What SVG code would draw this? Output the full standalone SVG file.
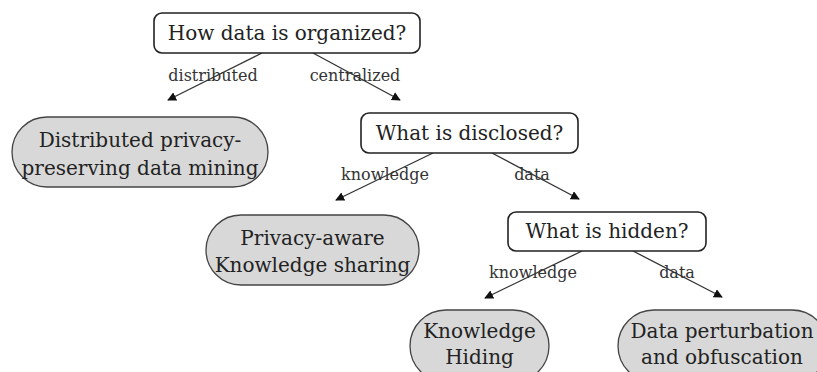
<svg xmlns="http://www.w3.org/2000/svg" width="817" height="372" viewBox="0 0 817 372">
  <style>
    .q rect { fill: #ffffff; stroke: #222222; stroke-width: 1.6; }
    .leaf rect { fill: #d8d8d8; stroke: #444444; stroke-width: 1.3; }
    .t { font-family: "DejaVu Serif", "Liberation Serif", serif; font-size: 20px; fill: #222222; text-anchor: middle; }
    .lbl { font-family: "DejaVu Serif", "Liberation Serif", serif; font-size: 16px; fill: #333333; text-anchor: middle; }
    .edge { stroke: #333333; stroke-width: 1.3; fill: none; marker-end: url(#tri); }
  </style>
  <defs>
    <marker id="tri" viewBox="0 0 10 10" refX="9" refY="5" markerWidth="9" markerHeight="9" markerUnits="userSpaceOnUse" orient="auto">
      <path d="M0,0 L10,5 L0,10 Z" fill="#111111"/>
    </marker>
  </defs>
  <rect width="817" height="372" fill="#ffffff"/>

  <!-- connectors with their edge labels -->
  <g id="connectors">
    <line class="edge" x1="262" y1="53" x2="168" y2="100"/>
    <line class="edge" x1="313" y1="53" x2="400" y2="100"/>
    <line class="edge" x1="433" y1="153" x2="336" y2="200"/>
    <line class="edge" x1="492" y1="153" x2="579" y2="199"/>
    <line class="edge" x1="582" y1="251" x2="485" y2="298"/>
    <line class="edge" x1="633" y1="251" x2="722" y2="297"/>
    <text class="lbl" x="213" y="81">distributed</text>
    <text class="lbl" x="355" y="81">centralized</text>
    <text class="lbl" x="385" y="180">knowledge</text>
    <text class="lbl" x="532" y="180">data</text>
    <text class="lbl" x="533" y="278">knowledge</text>
    <text class="lbl" x="677" y="278">data</text>
  </g>

  <g id="how-organized" class="q">
    <rect x="154" y="13" width="266" height="40" rx="8"/>
    <text class="t" x="287" y="40">How data is organized?</text>
  </g>

  <g id="distributed-ppdm" class="leaf">
    <rect x="12" y="117" width="256" height="70" rx="35"/>
    <text class="t" x="140" y="147">Distributed privacy-</text>
    <text class="t" x="140" y="175">preserving data mining</text>
  </g>

  <g id="what-disclosed" class="q">
    <rect x="361" y="113" width="217" height="40" rx="8"/>
    <text class="t" x="469.5" y="140">What is disclosed?</text>
  </g>

  <g id="knowledge-sharing" class="leaf">
    <rect x="206" y="215" width="213" height="70" rx="35"/>
    <text class="t" x="312.5" y="245">Privacy-aware</text>
    <text class="t" x="312.5" y="272">Knowledge sharing</text>
  </g>

  <g id="what-hidden" class="q">
    <rect x="508" y="212" width="198" height="39" rx="8"/>
    <text class="t" x="607" y="238">What is hidden?</text>
  </g>

  <g id="knowledge-hiding" class="leaf">
    <rect x="410" y="310" width="139" height="72" rx="36"/>
    <text class="t" x="479.5" y="338">Knowledge</text>
    <text class="t" x="479.5" y="364">Hiding</text>
  </g>

  <g id="data-perturbation" class="leaf">
    <rect x="618" y="310" width="210" height="72" rx="36"/>
    <text class="t" x="722" y="338">Data perturbation</text>
    <text class="t" x="722" y="364">and obfuscation</text>
  </g>
</svg>
